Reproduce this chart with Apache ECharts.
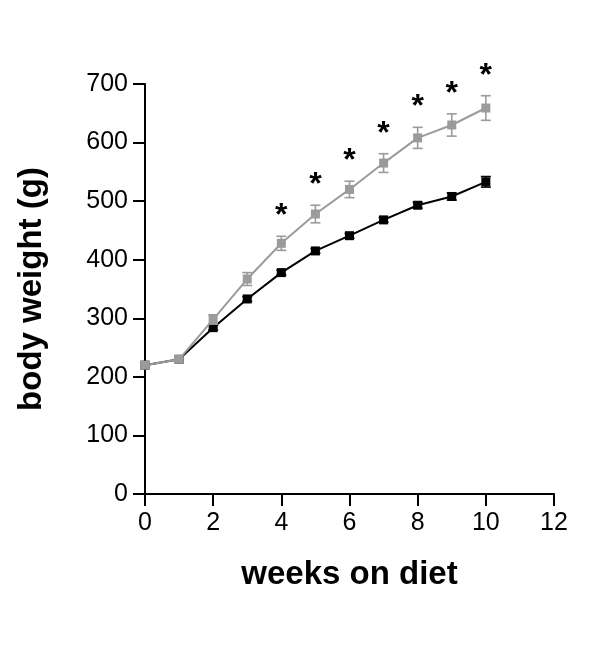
<!DOCTYPE html>
<html><head><meta charset="utf-8">
<script src="https://cdn.jsdelivr.net/npm/echarts@6/dist/echarts.min.js"></script>
<style>html,body{margin:0;padding:0;background:#fff}#c{width:600px;height:665px}</style>
</head><body><div id="c"></div>
<script>
var weeks = [0,1,2,3,4,5,6,7,8,9,10];
var blackMean = [220,230,284,333,378,415,441,468,493,508,533];
var blackErr  = [2,3,4,4,4,4,4,4,5,6,9];
var grayMean  = [220,230,298,367,428,478,520,565,608,630,659];
var grayErr   = [3,3,8,11,12,15,14,16,18,19,21];
var sigWeeks  = [4,5,6,7,8,9,10];
var xTicks = [0,2,4,6,8,10,12];
var yTicks = [0,100,200,300,400,500,600,700];

var FONT = '"Liberation Sans", Arial, Helvetica, sans-serif';
var GRAY = '#9b9b9b';

function pairs(xs, ys){ return xs.map(function(x,i){return [x, ys[i]];}); }
function errData(means, errs){ return weeks.map(function(w,i){return [w, means[i], errs[i]];}); }

function errRender(color){
  return function(params, api){
    var x = api.value(0), m = api.value(1), e = api.value(2);
    if (e <= 3) return null;
    var top = api.coord([x, m+e]), bot = api.coord([x, m-e]);
    var hw = 5;
    var st = {stroke: color, lineWidth: 1.6};
    return {type:'group', children:[
      {type:'line', shape:{x1:top[0], y1:top[1], x2:bot[0], y2:bot[1]}, style:st},
      {type:'line', shape:{x1:top[0]-hw, y1:top[1], x2:top[0]+hw, y2:top[1]}, style:st},
      {type:'line', shape:{x1:bot[0]-hw, y1:bot[1], x2:bot[0]+hw, y2:bot[1]}, style:st}
    ]};
  };
}

var starData = sigWeeks.map(function(w){ var i = weeks.indexOf(w); return [w, grayMean[i] + grayErr[i]]; });

var chart = echarts.init(document.getElementById('c'));
chart.setOption({
  animation: false,
  grid: {left: 145, right: 46, top: 84, bottom: 171, containLabel: false},
  xAxis: {
    type: 'value', min: 0, max: 12, interval: 2,
    name: 'weeks on diet', nameLocation: 'middle', nameGap: 64,
    nameTextStyle: {fontFamily: FONT, fontSize: 33, fontWeight: 'bold', color: '#000'},
    axisLine: {show: true, onZero: false, lineStyle: {color: '#000', width: 2}},
    axisTick: {show: true, length: 12, lineStyle: {color: '#000', width: 2}},
    axisLabel: {fontFamily: FONT, fontSize: 25, color: '#000', margin: 17,
      formatter: function(v){ return xTicks.indexOf(v) >= 0 ? String(v) : ''; }},
    splitLine: {show: false}
  },
  yAxis: {
    type: 'value', min: 0, max: 700, interval: 100,
    name: 'body weight (g)', nameLocation: 'middle', nameGap: 97, nameRotate: 90,
    nameTextStyle: {fontFamily: FONT, fontSize: 33, fontWeight: 'bold', color: '#000'},
    axisLine: {show: true, lineStyle: {color: '#000', width: 2}},
    axisTick: {show: true, length: 12, lineStyle: {color: '#000', width: 2}},
    axisLabel: {fontFamily: FONT, fontSize: 25, color: '#000', margin: 17,
      formatter: function(v){ return yTicks.indexOf(v) >= 0 ? String(v) : ''; }},
    splitLine: {show: false}
  },
  series: [
    {type: 'custom', renderItem: errRender('#000'), data: errData(blackMean, blackErr), z: 3, clip: false},
    {type: 'line', data: pairs(weeks, blackMean), symbol: 'rect', symbolSize: 9,
      lineStyle: {color: '#000', width: 2}, itemStyle: {color: '#000'}, z: 4},
    {type: 'custom', renderItem: errRender(GRAY), data: errData(grayMean, grayErr), z: 5, clip: false},
    {type: 'line', data: pairs(weeks, grayMean), symbol: 'rect', symbolSize: 9,
      lineStyle: {color: GRAY, width: 2}, itemStyle: {color: GRAY}, z: 6},
    {type: 'custom', clip: false, z: 7, data: starData,
      renderItem: function(params, api){
        var p = api.coord([api.value(0), api.value(1)]);
        return {type: 'text', style: {text: '*', x: p[0], y: p[1] - 20, textAlign: 'center', textVerticalAlign: 'middle',
          font: 'bold 32px ' + FONT, fill: '#000'}};
      }}
  ]
});
</script></body></html>
